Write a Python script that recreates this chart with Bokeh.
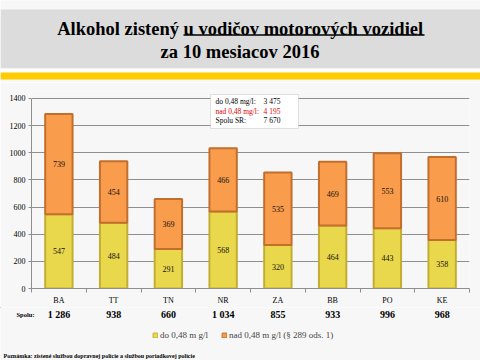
from bokeh.plotting import figure
from bokeh.layouts import column
from bokeh.models import (Range1d, FactorRange, SingleIntervalTicker, FixedTicker, Label,
                          ColumnDataSource, BoxAnnotation, Legend, LegendItem,
                          LinearAxis, CategoricalAxis)
from bokeh.core.properties import value
from bokeh.embed import file_html
from bokeh.resources import INLINE

# ---- data ----
regions = ["BA", "TT", "TN", "NR", "ZA", "BB", "PO", "KE"]
do_048 = [547, 484, 291, 568, 320, 464, 443, 358]
nad_048 = [739, 454, 369, 466, 535, 469, 553, 610]
y_max = 1400
y_step = 200
title1a = "Alkohol zistený"
title1b = "u vodičov motorových vozidiel"
title2 = "za 10 mesiacov 2016"
legend_do = "do 0,48 m g/l"
legend_nad = "nad 0,48 m g/l (§ 289 ods. 1)"
box_labels = ["do 0,48 mg/l:", "nad 0,48 mg/l:", "Spolu SR:"]
footnote = "Poznámka: zistené službou dopravnej polície a službou poriadkovej polície"
spolu_label = "Spolu:"


def fmt(n):
    return f"{n:,}".replace(",", " ")


totals = [a + b for a, b in zip(do_048, nad_048)]
sum_do = sum(do_048)
sum_nad = sum(nad_048)
sum_all = sum_do + sum_nad

W = 480
SERIF = "Liberation Serif"
YEL, YEL_D = "#ead84c", "#c2ae32"
ORA, ORA_D = "#f99c4c", "#c26f2e"
GRID = "#8e8e8e"
BG = "#f7f7f7"

# layout (page px)
H1 = 82             # header height
H2 = 225            # chart height
H3 = 360 - H1 - H2  # bottom strip
FL, FR = 31, 469    # frame left/right
FT, FB = 90, 289    # frame top/bottom
Y_TOP_PX = 98       # pixel row of the top tick


def bare(fig):
    fig.grid.visible = False
    fig.outline_line_color = None
    fig.background_fill_color = BG
    fig.border_fill_color = BG


# ---------------- header ----------------
hdr = figure(width=W, height=H1, output_backend="svg", toolbar_location=None,
             x_range=Range1d(0, W), y_range=Range1d(H1, 0),
             x_axis_location=None, y_axis_location=None, frame_align=False,
             min_border_left=0, min_border_right=0, min_border_top=0, min_border_bottom=0)
bare(hdr)
hdr.quad(left=[0, 0, 0], right=[W, W, W], top=[9, 68, 72], bottom=[68, 72, 79],
         fill_color=["#dcdcdc", "#ffffff", "#ffcc00"], line_color=None)
tfs = "18.5px"
hdr.text(x=[178.5], y=[28], text=[title1a], text_font=value(SERIF), text_font_style="bold",
         text_font_size=tfs, text_align="right", text_baseline="middle", text_color="#000000")
hdr.text(x=[183], y=[28], text=[title1b], text_font=value(SERIF), text_font_style="bold",
         text_font_size=tfs, text_align="left", text_baseline="middle", text_color="#000000")
hdr.segment(x0=[183], x1=[424], y0=[34.5], y1=[34.5], line_color="#000000", line_width=1.7)
hdr.text(x=[239.5], y=[51.5], text=[title2], text_font=value(SERIF), text_font_style="bold",
         text_font_size=tfs, text_align="center", text_baseline="middle", text_color="#000000")

# ---------------- chart ----------------
y_top = y_max * (FB - FT) / (FB - Y_TOP_PX)
p = figure(width=W, height=H2, output_backend="svg", toolbar_location=None,
           x_range=FactorRange(factors=regions, range_padding=0),
           y_range=Range1d(0, y_top), x_axis_location=None, frame_align=False,
           min_border_left=FL, min_border_right=W - FR,
           min_border_top=FT - H1, min_border_bottom=H1 + H2 - FB)
p.background_fill_color = BG
p.border_fill_color = BG
p.outline_line_color = None

p.xgrid.grid_line_color = None
p.ygrid.grid_line_color = GRID
p.ygrid.grid_line_width = 1
p.yaxis.ticker = SingleIntervalTicker(interval=y_step)
p.yaxis.bounds = (0, y_max)
p.yaxis.minor_tick_line_color = None
p.yaxis.major_tick_in = 0
p.yaxis.major_tick_out = 3
p.yaxis.major_tick_line_color = GRID
p.yaxis.axis_line_color = GRID
p.yaxis.major_label_standoff = 2
p.yaxis.major_label_text_font = SERIF
p.yaxis.major_label_text_font_size = "8px"
p.yaxis.major_label_text_color = "#000000"

# boundary ticks along the x axis (between categories), then the category labels
boundaries = list(range(len(regions) + 1))
tick_axis = LinearAxis(ticker=FixedTicker(ticks=boundaries),
                       major_label_overrides={b: "" for b in boundaries},
                       axis_line_color=GRID, major_tick_line_color=GRID,
                       major_tick_in=0, major_tick_out=4, minor_tick_line_color=None,
                       minor_tick_out=0, minor_tick_in=0,
                       major_label_text_font_size="1px", major_label_standoff=0)
cat_axis = CategoricalAxis(axis_line_color=None, major_tick_line_color=None,
                           major_tick_in=0, major_tick_out=0, minor_tick_line_color=None,
                           major_label_standoff=3, major_label_text_font=SERIF,
                           major_label_text_font_size="8px", major_label_text_color="#000000")
p.add_layout(tick_axis, "below")
p.add_layout(cat_axis, "below")

src = ColumnDataSource(dict(
    x=regions, do=do_048, nad=nad_048, tot=totals,
    do_mid=[d / 2 for d in do_048],
    nad_mid=[d + n / 2 for d, n in zip(do_048, nad_048)],
    do_t=[str(v) for v in do_048], nad_t=[str(v) for v in nad_048],
))
p.vbar(x="x", bottom=0, top="do", width=0.5, source=src,
       fill_color=YEL, line_color=YEL_D, line_width=2)
p.vbar(x="x", bottom="do", top="tot", width=0.5, source=src,
       fill_color=ORA, line_color=ORA_D, line_width=2)
p.text(x="x", y="do_mid", text="do_t", source=src, text_font=value(SERIF),
       text_font_size="8px", text_align="center", text_baseline="middle", text_color="#111111")
p.text(x="x", y="nad_mid", text="nad_t", source=src, text_font=value(SERIF),
       text_font_size="8px", text_align="center", text_baseline="middle", text_color="#111111")


def sx(cx):
    return cx - FL


def sy(cy):
    return FB - cy


p.add_layout(BoxAnnotation(left=sx(210), right=sx(298), top=sy(95), bottom=sy(129),
                           left_units="screen", right_units="screen",
                           top_units="screen", bottom_units="screen",
                           fill_color="#ffffff", fill_alpha=1, line_color="#a0a0a0", line_width=1))
box_vals = [fmt(sum_do), fmt(sum_nad), fmt(sum_all)]
box_cols = ["#000000", "#e00000", "#000000"]
for i, (lab, val, col) in enumerate(zip(box_labels, box_vals, box_cols)):
    yy = 102 + 9.5 * i
    p.add_layout(Label(x=sx(215), y=sy(yy), x_units="screen", y_units="screen", text=lab,
                       text_font=SERIF, text_font_size="7.5px", text_color=col,
                       text_baseline="middle"))
    p.add_layout(Label(x=sx(263), y=sy(yy), x_units="screen", y_units="screen", text=val,
                       text_font=SERIF, text_font_size="7.5px", text_color=col,
                       text_baseline="middle"))

# ---------------- bottom strip ----------------
Y0 = H1 + H2
bot = figure(width=W, height=H3, output_backend="svg", toolbar_location=None,
             x_range=Range1d(0, W), y_range=Range1d(360, Y0),
             x_axis_location=None, y_axis_location=None, frame_align=False,
             min_border_left=0, min_border_right=0, min_border_top=0, min_border_bottom=0)
bare(bot)

step = (FR - FL) / len(regions)
tot_x = [FL + (i + 0.5) * step for i in range(len(regions))]
bot.text(x=tot_x, y=[314] * len(regions), text=[fmt(t) for t in totals],
         text_font=value(SERIF), text_font_style="bold", text_font_size="10px",
         text_align="center", text_baseline="middle", text_color="#000000")
bot.text(x=[16], y=[314], text=[spolu_label], text_font=value(SERIF), text_font_style="bold",
         text_font_size="6.5px", text_align="left", text_baseline="middle", text_color="#000000")
bot.text(x=[3], y=[355], text=[footnote], text_font=value(SERIF), text_font_style="bold",
         text_font_size="6px", text_align="left", text_baseline="middle", text_color="#000000")

# legend swatches (single off-screen sample each, only used for the legend glyph)
r1 = bot.vbar(x=[-100], top=[-100], bottom=[-90], width=1, fill_color=YEL, line_color=YEL_D, line_width=1)
r2 = bot.vbar(x=[-100], top=[-100], bottom=[-90], width=1, fill_color=ORA, line_color=ORA_D, line_width=1)
leg = Legend(items=[LegendItem(label=legend_do, renderers=[r1]),
                    LegendItem(label=legend_nad, renderers=[r2])],
             orientation="horizontal", location=(152, 360 - 340),
             glyph_width=6, glyph_height=6, label_height=10, label_standoff=2,
             spacing=13, padding=0, margin=0,
             label_text_font=SERIF, label_text_font_size="9px",
             border_line_color=None, background_fill_alpha=0)
bot.add_layout(leg)

layout = column(hdr, p, bot, spacing=0)
open("out.html", "w").write(file_html(layout, INLINE))
